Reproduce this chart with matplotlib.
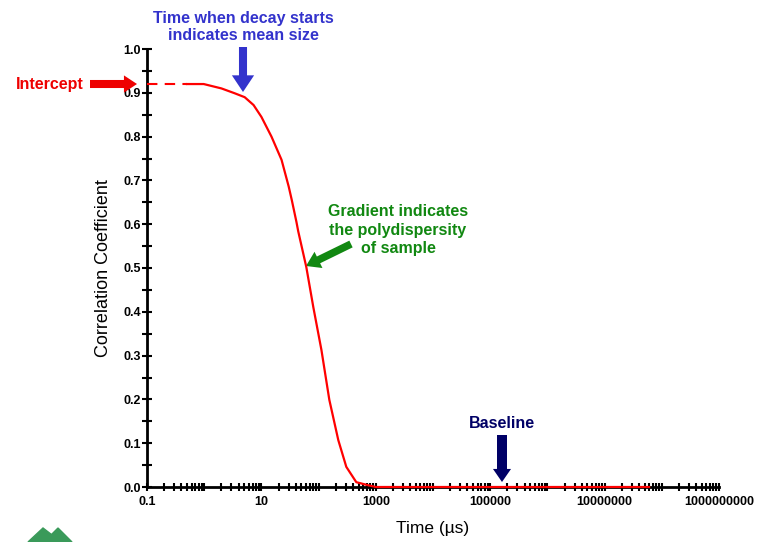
import matplotlib
matplotlib.use('Agg')
import matplotlib.pyplot as plt
import matplotlib.ticker as mticker
from matplotlib.patches import Polygon
import numpy as np

plt.rcParams['font.family'] = ['Liberation Sans', 'DejaVu Sans']

# correlation function
times = [0.5, 0.98, 2.0, 3.4, 5.1, 7.3, 10, 15, 22.5, 30, 34, 41, 44, 61, 81,
         112, 154, 221, 305, 456, 738, 1000, 6e7]
corr = [0.92, 0.92, 0.91, 0.899, 0.89, 0.872, 0.845, 0.80, 0.747, 0.686, 0.655,
        0.605, 0.584, 0.502, 0.41, 0.313, 0.199, 0.107, 0.046, 0.011, 0.004, 0.0, 0.0]
intercept = 0.92

xtick_vals = [0.1, 10, 1000, 1e5, 1e7, 1e9]
xtick_labels = ["0.1", "10", "1000", "100000", "10000000", "1000000000"]
ytick_vals = [0.0, 0.1, 0.2, 0.3, 0.4, 0.5, 0.6, 0.7, 0.8, 0.9, 1.0]
ytick_labels = ["%.1f" % v for v in ytick_vals]

W, H = 757, 542
fig = plt.figure(figsize=(W / 100, H / 100), dpi=100)
ax = fig.add_axes([147 / W, 1 - 487 / H, (719 - 147) / W, (487 - 49) / H])

ax.plot([0.1, times[0]], [intercept, intercept], color='red', lw=1.5,
        ls=(0, (5, 3.5)), clip_on=False, zorder=4)
ax.plot(times, corr, color='red', lw=1.6, clip_on=False, zorder=4)

ax.set_xscale('log')
ax.set_xlim(0.1, 1e9)
ax.set_ylim(0, 1.0)
for s in ['top', 'right']:
    ax.spines[s].set_visible(False)
for s in ['left', 'bottom']:
    ax.spines[s].set_linewidth(2)

ax.xaxis.set_major_locator(mticker.LogLocator(base=10, numticks=20))
ax.xaxis.set_minor_locator(mticker.LogLocator(base=10, subs=np.arange(2, 10), numticks=20))
ax.xaxis.set_major_formatter(mticker.NullFormatter())
ax.xaxis.set_minor_formatter(mticker.NullFormatter())
for v, lab in zip(xtick_vals, xtick_labels):
    ax.text(v, -0.035, lab, ha='center', va='center', fontsize=9, fontweight='bold',
            transform=ax.get_xaxis_transform())
ax.set_yticks(ytick_vals)
ax.set_yticklabels(ytick_labels, fontsize=9, fontweight='bold')
ax.yaxis.set_minor_locator(mticker.MultipleLocator(0.05))
ax.tick_params(axis='both', which='both', direction='inout', width=1.5, colors='black')
ax.tick_params(axis='x', which='both', length=6)
ax.tick_params(axis='y', which='both', length=7, pad=1)
ax.set_facecolor('none')

fig.text(433 / W, 1 - 529 / H, "Time (µs)", ha='center', va='center', fontsize=12.5)
fig.text(103 / W, 1 - 268 / H, "Correlation Coefficient", ha='center', va='center',
         fontsize=13, rotation=90)

def label(x, y, s, color):
    fig.text(x / W, 1 - y / H, s, ha='center', va='center', fontsize=11.5,
             fontweight='bold', color=color, linespacing=1.25)

def block_arrow(x0, y0, x1, y1, color, tw, hw, hl):
    ax.annotate('', xy=(x1 / W, 1 - y1 / H), xytext=(x0 / W, 1 - y0 / H),
                xycoords='figure fraction', textcoords='figure fraction',
                annotation_clip=False,
                arrowprops=dict(arrowstyle='simple,head_length=%g,head_width=%g,tail_width=%g'
                                % (hl, hw, tw), mutation_scale=20, color=color,
                                shrinkA=0, shrinkB=0, lw=0))

label(50, 84, "Intercept", '#ee0000')
block_arrow(90, 84, 137, 84, '#ee0000', 0.29, 0.62, 0.47)
label(243, 27, "Time when decay starts\nindicates mean size", '#3333cc')
block_arrow(243, 47, 243, 92, '#3333cc', 0.29, 0.8, 0.6)
label(398, 230, "Gradient indicates\nthe polydispersity\nof sample", '#118811')
block_arrow(351, 244, 306, 266, '#118811', 0.27, 0.65, 0.5)
label(502, 423, "Baseline", '#000066')
block_arrow(502, 435, 502, 482, '#000066', 0.36, 0.65, 0.47)

# logo fragment in the lower left corner
fig.patches.append(Polygon([(28 / W, 0), (43 / W, 1 - 528 / H), (56 / W, 1 - 538 / H),
                            (52 / W, 0)], closed=True, color='#3a9a5a',
                           transform=fig.transFigure, figure=fig))
fig.patches.append(Polygon([(44 / W, 0), (58 / W, 1 - 528 / H), (72 / W, 0)], closed=True,
                           color='#3a9a5a', transform=fig.transFigure, figure=fig))

fig.savefig('out.png', dpi=100)
